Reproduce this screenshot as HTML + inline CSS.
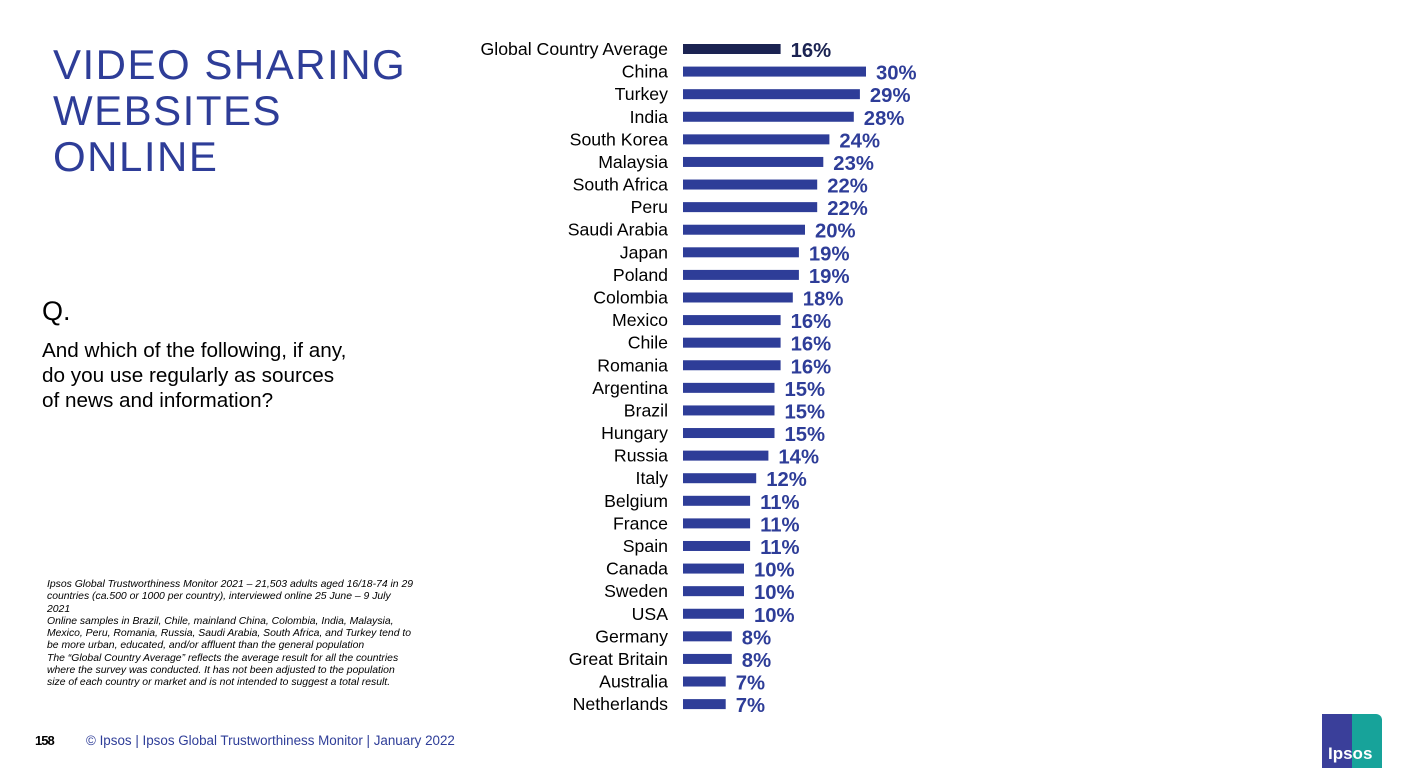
<!DOCTYPE html>
<html><head><meta charset="utf-8"><style>
body{margin:0;width:1411px;height:782px;background:#fff;position:relative;overflow:hidden;font-family:"Liberation Sans",Arial,sans-serif}
.abs{position:absolute}
</style></head><body>
<div class="abs" style="left:53px;top:42px;font-size:42px;line-height:46px;color:#2e3d98;letter-spacing:1.5px">VIDEO SHARING<br>WEBSITES<br>ONLINE</div>
<div class="abs" style="left:42px;top:296px;font-size:27px;color:#000">Q.</div>
<div class="abs" style="left:42px;top:338px;font-size:20.7px;line-height:25px;color:#000">And which of the following, if any,<br>do you use regularly as sources<br>of news and information?</div>
<div class="abs" style="left:47px;top:579px;width:390px;font-size:10.4px;line-height:12.3px;font-style:italic;color:#000;white-space:nowrap">Ipsos Global Trustworthiness Monitor 2021 – 21,503 adults aged 16/18-74 in 29<br>countries (ca.500 or 1000 per country), interviewed online 25 June – 9 July<br>2021<br>Online samples in Brazil, Chile, mainland China, Colombia, India, Malaysia,<br>Mexico, Peru, Romania, Russia, Saudi Arabia, South Africa, and Turkey tend to<br>be more urban, educated, and/or affluent than the general population<br>The “Global Country Average” reflects the average result for all the countries<br>where the survey was conducted. It has not been adjusted to the population<br>size of each country or market and is not intended to suggest a total result.</div>
<div class="abs" style="left:35px;top:733px;font-size:13px;font-weight:900;color:#000;letter-spacing:-1px">158</div>
<div class="abs" style="left:86px;top:733px;font-size:13.4px;color:#2e3d98">© Ipsos | Ipsos Global Trustworthiness Monitor | January 2022</div>
<div class="abs" style="left:1322px;top:714px;width:60px;height:54px;background:linear-gradient(90deg,#3a3f9a 50%,#17a39a 50%);border-radius:0 6px 0 0">
<div class="abs" style="left:6px;top:30px;font-size:17px;font-weight:bold;color:#fff">Ipsos</div></div>
<svg class="abs" style="left:0;top:0" width="1411" height="782" id="chart"></svg>
<script>
const categories=["Global Country Average","China","Turkey","India","South Korea","Malaysia","South Africa","Peru","Saudi Arabia","Japan","Poland","Colombia","Mexico","Chile","Romania","Argentina","Brazil","Hungary","Russia","Italy","Belgium","France","Spain","Canada","Sweden","USA","Germany","Great Britain","Australia","Netherlands"];
const values=[16,30,29,28,24,23,22,22,20,19,19,18,16,16,16,15,15,15,14,12,11,11,11,10,10,10,8,8,7,7];
const svg=document.getElementById('chart');
const NS='http://www.w3.org/2000/svg';
const x0=683, pxPer=6.1, y0=49, step=22.59;
function xs(v){return x0+v*pxPer;}
function ys(i){return y0+i*step;}
categories.forEach((c,i)=>{
  const y=ys(i);
  const t=document.createElementNS(NS,'text');
  t.setAttribute('x',668);t.setAttribute('y',y+6);t.setAttribute('text-anchor','end');
  t.setAttribute('font-size','17.7');t.setAttribute('fill','#000');t.textContent=c;
  
  
  svg.appendChild(t);
  const r=document.createElementNS(NS,'rect');
  r.setAttribute('x',x0);r.setAttribute('y',y-5);r.setAttribute('width',xs(values[i])-x0);r.setAttribute('height',10);
  r.setAttribute('fill',i===0?'#1b2352':'#2e3d98');
  
  
  svg.appendChild(r);
  const v=document.createElementNS(NS,'text');
  v.setAttribute('x',xs(values[i])+10);v.setAttribute('y',y+8);
  v.setAttribute('font-size','20.3');v.setAttribute('font-weight','bold');
  v.setAttribute('fill',i===0?'#1b2352':'#2e3d98');v.textContent=values[i]+'%';
  
  
  svg.appendChild(v);
});
</script>
</body></html>
